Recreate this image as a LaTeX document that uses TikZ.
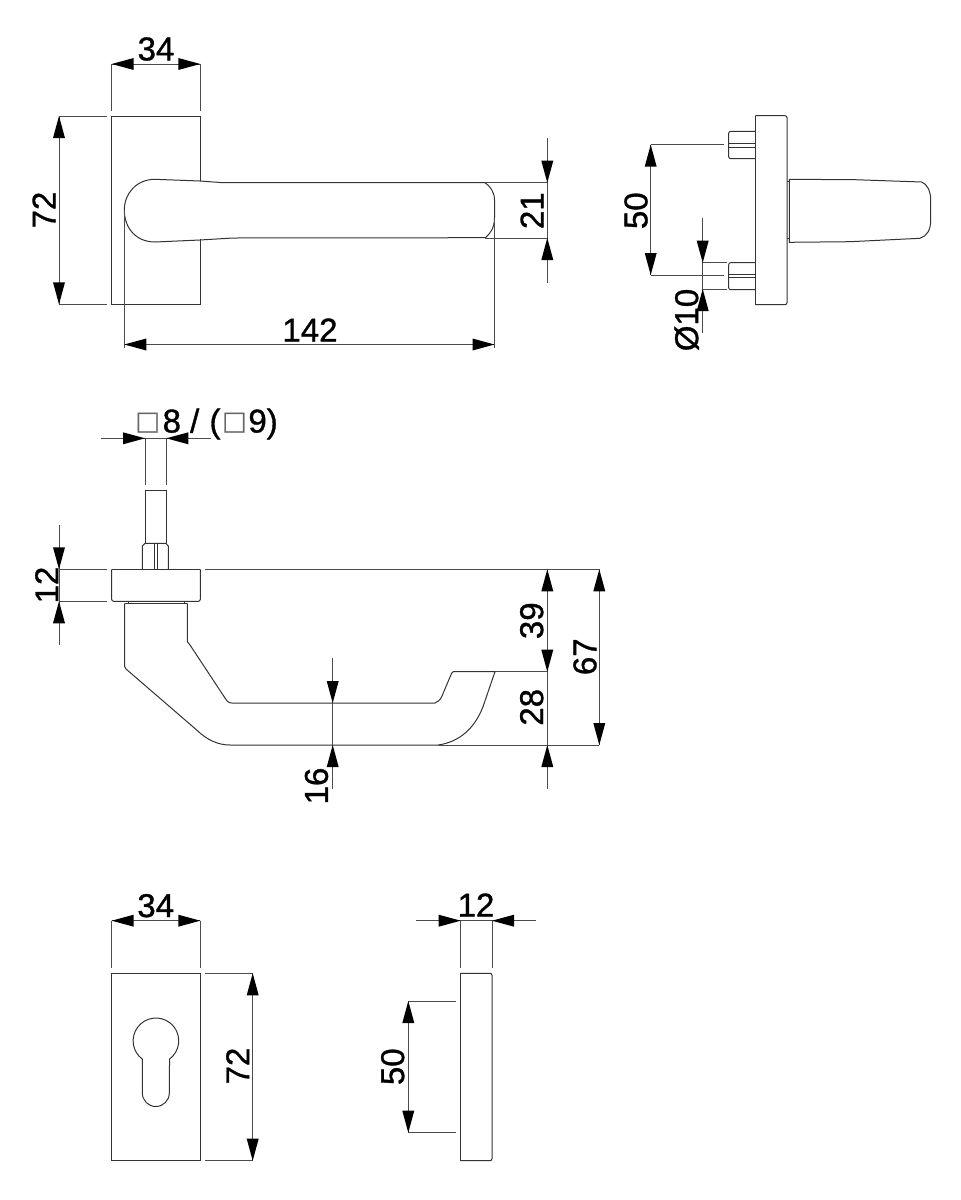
\documentclass[tikz,border=0pt]{standalone}
\usepackage{fontspec}
\setmainfont{Liberation Sans}
\newfontfamily\dimfont[FakeBold=1]{Liberation Sans}

\begin{document}
\begin{tikzpicture}[x=1pt,y=1pt]
		\tikzstyle{every node}+=[inner sep=0pt]
		\tikzstyle{partline}=[black!80,line width=1pt]
		\tikzstyle{dimline}=[black!70,line width=0.9pt]
		\tikzstyle{dimtext}=[black,font=\dimfont\fontsize{33}{33}\selectfont]
		\useasboundingbox (0,0) rectangle (961,-1200);
		% rose and lever, front
		\draw [partline] (111.7,-116) rectangle (200.3,-304.3);
		\fill [white] (112.5,-181) rectangle (205,-239);
		\draw [partline] (111.7,-181) -- (111.7,-239);
		\draw [partline] (485,-182.7) -- (223,-182.7) -- (200,-181) -- (155,-179.3) .. controls (136,-179.3) and (124.3,-194) .. (124.3,-210) .. controls (124.3,-228) and (136,-242) .. (155,-242) -- (200,-240) -- (233,-238) -- (485,-237.7);
		\draw [partline] (485,-182.7) .. controls (490,-186) and (494.5,-192) .. (494.5,-200) -- (494.5,-218) .. controls (494.5,-228) and (490,-234) .. (485,-238);
		\draw [dimline] (111.7,-64) -- (111.7,-110.7);
		\draw [dimline] (200.3,-64) -- (200.3,-110.7);
		\draw [dimline] (111.7,-64) -- (200.3,-64);
		\fill [black] (111.7,-64) -- (133.7,-58) -- (133.7,-70);
		\fill [black] (200.3,-64) -- (178.3,-58) -- (178.3,-70);
		\node [dimtext] (topwidth) at (156,-49) {34};
		\draw [dimline] (59,-116) -- (106.7,-116);
		\draw [dimline] (59,-304.3) -- (106.7,-304.3);
		\draw [dimline] (59,-116) -- (59,-304.3);
		\fill [black] (59,-116) -- (53,-138) -- (65,-138);
		\fill [black] (59,-304.3) -- (53,-282.3) -- (65,-282.3);
		\node [dimtext,rotate=90] (topheight) at (44,-210) {72};
		\draw [dimline] (124.3,-210) -- (124.3,-348);
		\draw [dimline] (494.5,-218) -- (494.5,-348);
		\draw [dimline] (124.3,-344.5) -- (494.5,-344.5);
		\fill [black] (124.3,-344.5) -- (146.3,-338.5) -- (146.3,-350.5);
		\fill [black] (494.5,-344.5) -- (472.5,-338.5) -- (472.5,-350.5);
		\node [dimtext] (leverlength) at (310,-330) {142};
		\draw [dimline] (485,-182.7) -- (547.3,-182.7);
		\draw [dimline] (485,-238) -- (547.3,-238);
		\draw [dimline] (547.3,-138) -- (547.3,-282.7);
		\fill [black] (547.3,-182.7) -- (541.3,-160.7) -- (553.3,-160.7);
		\fill [black] (547.3,-238) -- (541.3,-260) -- (553.3,-260);
		\node [dimtext,rotate=90] (leverwidth) at (532,-210.7) {21};
		% rose and lever, end on
		\draw [partline,rounded corners=2pt] (755.3,-115.7) -- (787,-115.7) -- (787,-304.7) -- (755.3,-304.7);
		\draw [partline] (755.3,-115.7) -- (755.3,-304.7);
		\draw [partline,rounded corners=2pt] (755.3,-131.3) -- (728.7,-131.3) -- (728.7,-158.7) -- (755.3,-158.7);
		\draw [partline] (728.7,-143.3) -- (755.3,-143.3);
		\draw [partline] (728.7,-147.3) -- (755.3,-147.3);
		\draw [partline,rounded corners=2pt] (755.3,-262.7) -- (728.7,-262.7) -- (728.7,-289.7) -- (755.3,-289.7);
		\draw [partline] (728.7,-274) -- (755.3,-274);
		\draw [partline] (728.7,-277.7) -- (755.3,-277.7);
		\draw [partline] (787,-181) -- (789.3,-181);
		\draw [partline] (787,-238) -- (789.3,-238);
		\draw [partline] (789.3,-179.3) -- (855,-179.7) -- (921.7,-182) .. controls (927,-184) and (930.7,-191) .. (930.7,-200) -- (930.7,-220) .. controls (930.7,-230) and (927,-236) .. (920,-238.3) -- (850,-241.7) -- (789.3,-242.3) -- cycle;
		\draw [dimline] (650.7,-144.7) -- (724,-144.7);
		\draw [dimline] (650.7,-275) -- (724,-275);
		\draw [dimline] (650.7,-144.7) -- (650.7,-275);
		\fill [black] (650.7,-144.7) -- (644.7,-166.7) -- (656.7,-166.7);
		\fill [black] (650.7,-275) -- (644.7,-253) -- (656.7,-253);
		\node [dimtext,rotate=90] (pinspacing) at (636,-210.7) {50};
		\draw [dimline] (702.7,-262.7) -- (726.7,-262.7);
		\draw [dimline] (702.7,-289) -- (726.7,-289);
		\draw [dimline] (702.7,-218) -- (702.7,-333);
		\fill [black] (702.7,-262.7) -- (696.7,-240.7) -- (708.7,-240.7);
		\fill [black] (702.7,-289) -- (696.7,-311) -- (708.7,-311);
		\node [dimtext,rotate=90] (pindiameter) at (686.7,-320) {Ø10};
		% spindle and lever, side
		\node [dimtext,anchor=base west] (spindlesize) at (137.5,-432.5) {\textcolor{black!60}{□}\kern5pt 8 / \kern1pt(\kern4pt\textcolor{black!60}{□}\kern4pt 9)};
		\draw [dimline] (145,-438.3) -- (145,-485);
		\draw [dimline] (166.3,-438.3) -- (166.3,-485);
		\draw [dimline] (101,-438.3) -- (211,-438.3);
		\fill [black] (145,-438.3) -- (123,-432.3) -- (123,-444.3);
		\fill [black] (166.3,-438.3) -- (188.3,-432.3) -- (188.3,-444.3);
		\draw [partline] (145,-543.3) -- (145,-490.3) -- (166.3,-490.3) -- (166.3,-543.3);
		\draw [partline] (142.3,-569.3) -- (142.3,-546) -- (145,-543.3) -- (166,-543.3) -- (168.3,-546) -- (168.3,-569.3);
		\draw [partline] (154.3,-543.3) -- (154.3,-569.3);
		\draw [partline] (157.3,-543.3) -- (157.3,-569.3);
		\draw [partline,rounded corners=2pt] (111.7,-569.3) -- (111.7,-601.3) -- (200.3,-601.3) -- (200.3,-569.3);
		\draw [partline] (111.7,-569.3) -- (200.3,-569.3);
		\draw [partline] (128.3,-601.3) -- (128.3,-603.3);
		\draw [partline] (184,-601.3) -- (184,-603.3);
		\draw [partline] (124.7,-603.3) -- (187.3,-603.3);
		\draw [partline] (124.7,-603.3) -- (124.7,-666.7) -- (126,-669) -- (196.7,-730) .. controls (207,-740) and (218,-745) .. (230,-745) -- (438.3,-745) .. controls (458,-742) and (474,-730) .. (483,-706.7) -- (495,-671.7) -- (453.3,-671.7) -- (451.7,-673) -- (441.7,-696.7) .. controls (440,-700) and (438,-702) .. (435,-703) -- (231.7,-703) .. controls (228,-703) and (226,-700) .. (225,-698) -- (190,-645) -- (187.3,-641.7) -- (187.3,-603.3);
		\draw [dimline] (59,-569.3) -- (106.7,-569.3);
		\draw [dimline] (59,-601.3) -- (106.7,-601.3);
		\draw [dimline] (59,-525) -- (59,-645);
		\fill [black] (59,-569.3) -- (53,-547.3) -- (65,-547.3);
		\fill [black] (59,-601.3) -- (53,-623.3) -- (65,-623.3);
		\node [dimtext,rotate=90] (rosethick) at (46.7,-585) {12};
		\draw [dimline] (205,-569.3) -- (599.3,-569.3);
		\draw [dimline] (495,-671.7) -- (547.3,-671.7);
		\draw [dimline] (438.3,-745) -- (599.3,-745);
		\draw [dimline] (547.3,-569.3) -- (547.3,-789.3);
		\fill [black] (547.3,-569.3) -- (541.3,-591.3) -- (553.3,-591.3);
		\fill [black] (547.3,-671.7) -- (541.3,-649.7) -- (553.3,-649.7);
		\fill [black] (547.3,-745) -- (541.3,-767) -- (553.3,-767);
		\node [dimtext,rotate=90] (leverdrop) at (531.7,-620.7) {39};
		\node [dimtext,rotate=90] (leverend) at (531.7,-707.3) {28};
		\draw [dimline] (599.3,-569.3) -- (599.3,-745);
		\fill [black] (599.3,-569.3) -- (593.3,-591.3) -- (605.3,-591.3);
		\fill [black] (599.3,-745) -- (593.3,-723) -- (605.3,-723);
		\node [dimtext,rotate=90] (overalldrop) at (585,-656.7) {67};
		\draw [dimline] (332.7,-657.7) -- (332.7,-789);
		\fill [black] (332.7,-703) -- (326.7,-681) -- (338.7,-681);
		\fill [black] (332.7,-745) -- (326.7,-767) -- (338.7,-767);
		\node [dimtext,rotate=90] (leverthick) at (316.5,-786) {16};
		% key rose, front
		\draw [partline] (111.7,-973.3) rectangle (200.3,-1160.7);
		\draw [partline] (142.3,-1059.1) arc (233.3:-53.3:22.8) -- (169.3,-1093) arc (0:-180:13.5) -- cycle;
		\draw [dimline] (111.7,-920.7) -- (111.7,-967.7);
		\draw [dimline] (200.3,-920.7) -- (200.3,-967.7);
		\draw [dimline] (111.7,-920.7) -- (200.3,-920.7);
		\fill [black] (111.7,-920.7) -- (133.7,-914.7) -- (133.7,-926.7);
		\fill [black] (200.3,-920.7) -- (178.3,-914.7) -- (178.3,-926.7);
		\node [dimtext] (keywidth) at (155.7,-905.7) {34};
		\draw [dimline] (205,-973.3) -- (252.7,-973.3);
		\draw [dimline] (205,-1160.7) -- (252.7,-1160.7);
		\draw [dimline] (252.7,-973.3) -- (252.7,-1160.7);
		\fill [black] (252.7,-973.3) -- (246.7,-995.3) -- (258.7,-995.3);
		\fill [black] (252.7,-1160.7) -- (246.7,-1138.7) -- (258.7,-1138.7);
		\node [dimtext,rotate=90] (keyheight) at (237.7,-1066) {72};
		% key rose, side
		\draw [partline,rounded corners=2pt] (460.7,-973.3) -- (492,-973.3) -- (492,-1160.7) -- (460.7,-1160.7);
		\draw [partline] (460.7,-973.3) -- (460.7,-1160.7);
		\draw [dimline] (460.7,-920.7) -- (460.7,-968.3);
		\draw [dimline] (492,-920.7) -- (492,-968.3);
		\draw [dimline] (415.7,-920.7) -- (536,-920.7);
		\fill [black] (460.7,-920.7) -- (438.7,-914.7) -- (438.7,-926.7);
		\fill [black] (492,-920.7) -- (514,-914.7) -- (514,-926.7);
		\node [dimtext] (keythick) at (476,-905) {12};
		\draw [dimline] (408.3,-1001) -- (456,-1001);
		\draw [dimline] (408.3,-1132.7) -- (456,-1132.7);
		\draw [dimline] (408.3,-1001) -- (408.3,-1132.7);
		\fill [black] (408.3,-1001) -- (402.3,-1023) -- (414.3,-1023);
		\fill [black] (408.3,-1132.7) -- (402.3,-1110.7) -- (414.3,-1110.7);
		\node [dimtext,rotate=90] (keyspacing) at (392.7,-1066.7) {50};
\end{tikzpicture}
\end{document}
